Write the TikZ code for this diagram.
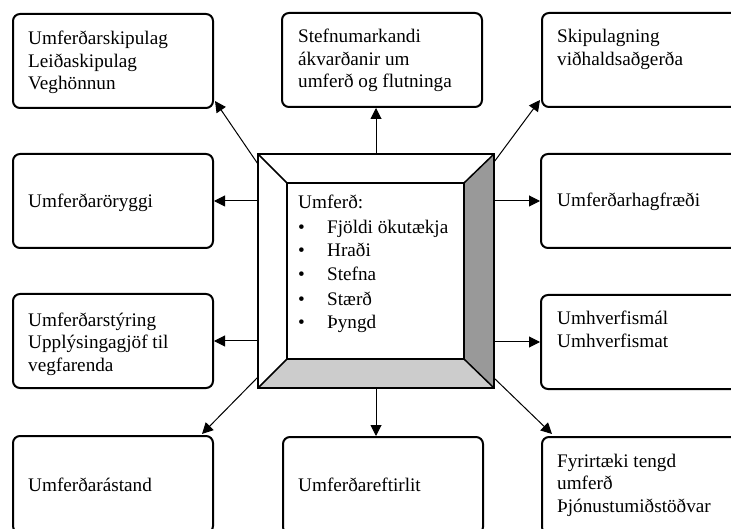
\documentclass[tikz,border=0pt]{standalone}
\usepackage{fontspec}
\setmainfont{Liberation Serif}
\usetikzlibrary{arrows.meta,calc}
\begin{document}
\begin{tikzpicture}[x=1pt,y=-1pt,
  box/.style={draw, line width=2pt, rounded corners=7pt, minimum width=200pt, minimum height=94pt, inner sep=0pt, anchor=north west},
  lowbox/.style={box, minimum height=97pt},
  txt/.style={font=\fontsize{19.2}{22.5}\selectfont, align=left, inner sep=0pt, anchor=base west},
  arr/.style={line width=1pt, -{Triangle[length=11pt,width=11pt]}},
  bevel/.style={line width=1.5pt, line join=miter},
]
\useasboundingbox (0,0) rectangle (731,529);
\clip (0,0) rectangle (731,529);

% outer boxes
\node[box] (b1) at (12,13) {};
\node[box] (b2) at (281,12) {};
\node[box] (b3) at (541,12) {};
\node[box] (b4) at (12,153) {};
\node[box] (b5) at (540,153) {};
\node[box] (b6) at (12,293) {};
\node[box] (b7) at (540,294) {};
\node[lowbox] (b8) at (12,435) {};
\node[lowbox] (b9) at (282,436) {};
\node[lowbox] (b10) at (541,436) {};

% texts (base = baseline of the last line)
\node[txt] (t1) at (28,90) {Umferðarskipulag\\Leiðaskipulag\\Veghönnun};
\node[txt] (t2) at (298,88) {Stefnumarkandi\\ákvarðanir um\\umferð og flutninga};
\node[txt] (t3) at (557,65.5) {Skipulagning\\viðhaldsaðgerða};
\node[txt] (t4) at (28,208) {Umferðaröryggi};
\node[txt] (t5) at (557,207) {Umferðarhagfræði};
\node[txt] (t6) at (28,371) {Umferðarstýring\\Upplýsingagjöf til\\vegfarenda};
\node[txt] (t7) at (557,347.5) {Umhverfismál\\Umhverfismat};
\node[txt] (t8) at (28,491) {Umferðarástand};
\node[txt] (t9) at (298,491) {Umferðareftirlit};
\node[txt] (t10) at (557,512) {Fyrirtæki tengd\\umferð\\Þjónustumiðstöðvar};

% central node (shape drawn below)
\node[minimum width=236pt, minimum height=234pt, inner sep=0pt] (c) at (376,271) {};
\coordinate (iNW) at ($(c.north west)+(29,29)$);
\coordinate (iNE) at ($(c.north east)+(-30,29)$);
\coordinate (iSE) at ($(c.south east)+(-30,-29)$);
\coordinate (iSW) at ($(c.south west)+(29,-29)$);

% connectors
\draw[arr] (c.north) -- (c.north |- b2.south);
\draw[arr] (c.west |- b4.west) -- (b4.east);
\draw[arr] (c.west |- b6.west) -- (b6.east);
\draw[arr] (c.east |- b5.west) -- (b5.west);
\draw[arr] (c.east |- b7.west) -- (b7.west);
\draw[arr] (c.south) -- (c.south |- b9.north);
\coordinate (cTL) at ($(c.north west)+(0,10)$);
\coordinate (cTR) at ($(c.north east)+(0,8)$);
\coordinate (cBL) at ($(c.south west)+(0,-11)$);
\coordinate (cBR) at ($(c.south east)+(0,-10)$);
\coordinate (eTL) at ($(b1.south east)+(1,-8)$);
\coordinate (eTR) at ($(b3.south west)+(-1,-8)$);
\coordinate (eBL) at ($(b8.north east)+(-12,-1)$);
\coordinate (eBR) at ($(b10.north west)+(11,-2)$);
\draw[arr] (cTL) -- (eTL);
\draw[arr] (cTR) -- (eTR);
\draw[arr] (cBL) -- (eBL);
\draw[arr] (cBR) -- (eBR);

% bevelled central box
\fill[white] (c.north west) rectangle (c.south east);
\fill[black!40] (c.north east) -- (c.south east) -- (iSE) -- (iNE) -- cycle;
\fill[black!20] (c.south west) -- (c.south east) -- (iSE) -- (iSW) -- cycle;
\draw[bevel] (c.north west) rectangle (c.south east);
\draw[bevel] (iNW) rectangle (iSE);
\draw[bevel] (c.north west) -- (iNW);
\draw[bevel] (c.north east) -- (iNE);
\draw[bevel] (c.south east) -- (iSE);
\draw[bevel] (c.south west) -- (iSW);

\node[txt] (ct) at (298,329) {Umferð:\\[1.5pt]
\makebox[29pt][l]{•}Fjöldi ökutækja\\[1.5pt]
\makebox[29pt][l]{•}Hraði\\[1.5pt]
\makebox[29pt][l]{•}Stefna\\[1.5pt]
\makebox[29pt][l]{•}Stærð\\[1.5pt]
\makebox[29pt][l]{•}Þyngd};
\end{tikzpicture}
\end{document}
